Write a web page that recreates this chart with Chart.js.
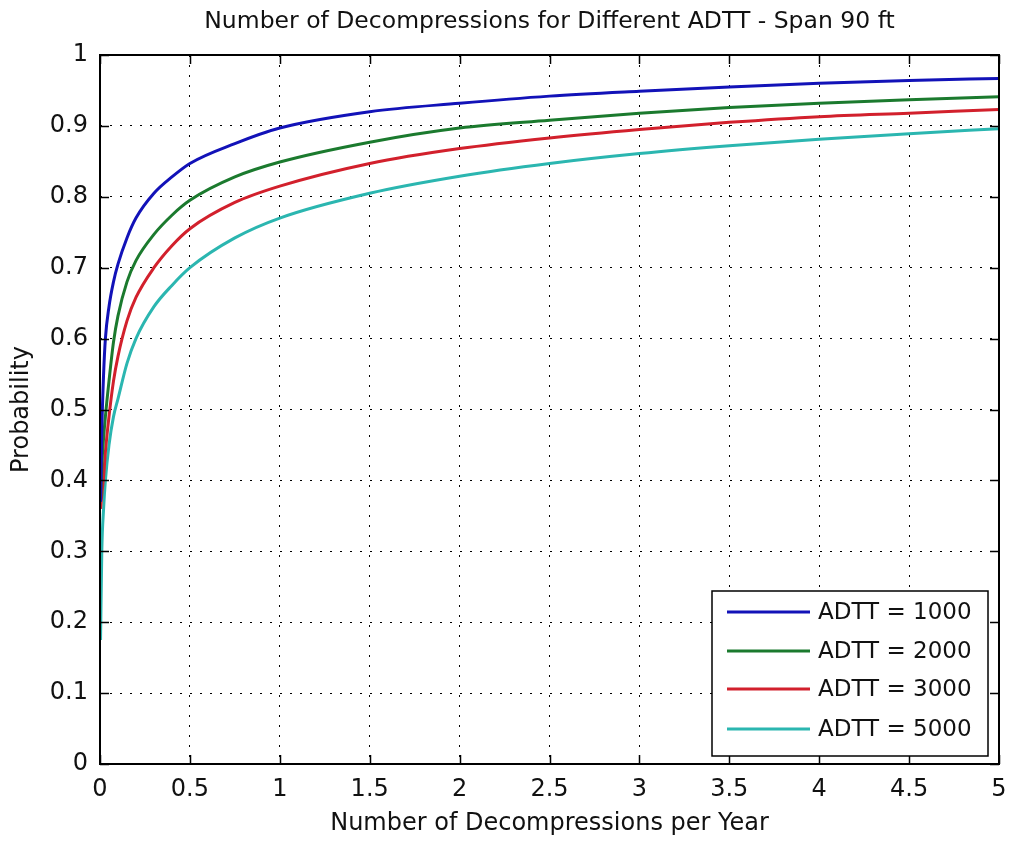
<!DOCTYPE html>
<html>
<head>
<meta charset="utf-8">
<script src="https://cdn.jsdelivr.net/npm/chart.js@4/dist/chart.umd.min.js"></script>
<style>
  html, body { margin: 0; padding: 0; background: #fff; }
  #wrap { width: 1010px; height: 843px; }
</style>
</head>
<body>
<div id="wrap"><canvas id="c" width="1010" height="843"></canvas></div>
<script>
const chartTitle = 'Number of Decompressions for Different ADTT - Span 90 ft';
const xAxisTitle = 'Number of Decompressions per Year';
const yAxisTitle = 'Probability';
const seriesLabels = ['ADTT = 1000', 'ADTT = 2000', 'ADTT = 3000', 'ADTT = 5000'];
const seriesColors = ['#1212b8', '#1b7a2e', '#d2202c', '#2bb6b0'];

const xTickLabels = ['0', '0.5', '1', '1.5', '2', '2.5', '3', '3.5', '4', '4.5', '5'];
const yTickLabels = ['0', '0.1', '0.2', '0.3', '0.4', '0.5', '0.6', '0.7', '0.8', '0.9', '1'];

const xValues  = [0.003, 0.01, 0.02, 0.03, 0.05, 0.075, 0.1, 0.15, 0.2, 0.3, 0.4, 0.5, 0.75, 1, 1.5, 2, 2.5, 3, 3.5, 4, 4.5, 5];
const adtt1000 = [0.37, 0.47, 0.55, 0.60, 0.645, 0.68, 0.705, 0.742, 0.77, 0.805, 0.828, 0.847, 0.875, 0.897, 0.92, 0.932, 0.942, 0.949, 0.955, 0.96, 0.964, 0.967];
const adtt2000 = [0.37, 0.42, 0.46, 0.49, 0.54, 0.595, 0.632, 0.68, 0.71, 0.747, 0.774, 0.795, 0.828, 0.849, 0.877, 0.897, 0.908, 0.918, 0.926, 0.932, 0.937, 0.941];
const adtt3000 = [0.36, 0.38, 0.405, 0.44, 0.49, 0.54, 0.575, 0.625, 0.658, 0.70, 0.731, 0.755, 0.792, 0.815, 0.847, 0.868, 0.883, 0.895, 0.905, 0.913, 0.918, 0.923];
const adtt5000 = [0.175, 0.30, 0.36, 0.40, 0.45, 0.49, 0.515, 0.565, 0.60, 0.645, 0.675, 0.70, 0.742, 0.77, 0.805, 0.829, 0.847, 0.861, 0.872, 0.881, 0.889, 0.896];

const seriesValues = [adtt1000, adtt2000, adtt3000, adtt5000];
const FONT = '"DejaVu Sans", "Liberation Sans", Arial, sans-serif';

const datasets = seriesValues.map((vals, i) => ({
  label: seriesLabels[i],
  data: xValues.map((x, j) => ({ x: x, y: vals[j] })),
  borderColor: seriesColors[i],
  backgroundColor: seriesColors[i],
  borderWidth: 3,
  pointRadius: 0,
  fill: false,
  cubicInterpolationMode: 'monotone'
}));

const frameAndLegend = {
  id: 'frameAndLegend',
  afterDraw(chart) {
    const ctx = chart.ctx;
    const a = chart.chartArea;
    const xs = chart.scales.x, ys = chart.scales.y;
    ctx.save();
    // title centred over the plot area
    ctx.fillStyle = '#111';
    ctx.font = '23.5px ' + FONT;
    ctx.textAlign = 'center';
    ctx.textBaseline = 'middle';
    ctx.fillText(chartTitle, (a.left + a.right) / 2, 22);
    // inward ticks
    ctx.strokeStyle = '#000';
    ctx.lineWidth = 1.5;
    const tl = 9;
    ctx.beginPath();
    xs.ticks.forEach(t => {
      const px = Math.round(xs.getPixelForValue(t.value)) + 0.5;
      ctx.moveTo(px, a.bottom); ctx.lineTo(px, a.bottom - tl);
      ctx.moveTo(px, a.top); ctx.lineTo(px, a.top + tl);
    });
    ys.ticks.forEach(t => {
      const py = Math.round(ys.getPixelForValue(t.value)) + 0.5;
      ctx.moveTo(a.left, py); ctx.lineTo(a.left + tl, py);
      ctx.moveTo(a.right, py); ctx.lineTo(a.right - tl, py);
    });
    ctx.stroke();
    // box
    ctx.lineWidth = 2;
    ctx.strokeRect(a.left, a.top, a.right - a.left, a.bottom - a.top);

    // legend
    const lx = 712, ly = 591, lw = 276, lh = 165;
    ctx.fillStyle = '#fff';
    ctx.fillRect(lx, ly, lw, lh);
    ctx.lineWidth = 1.5;
    ctx.strokeStyle = '#000';
    ctx.strokeRect(lx, ly, lw, lh);
    const rows = [612, 651, 689, 729];
    ctx.font = '23px ' + FONT;
    ctx.textBaseline = 'middle';
    ctx.textAlign = 'left';
    chart.data.datasets.forEach((ds, i) => {
      ctx.strokeStyle = ds.borderColor;
      ctx.lineWidth = 3;
      ctx.beginPath();
      ctx.moveTo(727, rows[i]); ctx.lineTo(810, rows[i]);
      ctx.stroke();
      ctx.fillStyle = '#111';
      ctx.fillText(ds.label, 818, rows[i] + 1);
    });
    ctx.restore();
  }
};

new Chart(document.getElementById('c'), {
  type: 'line',
  data: { datasets: datasets },
  options: {
    responsive: false,
    animation: false,
    layout: { padding: { left: 0, right: 0, top: 55, bottom: 0 } },
    plugins: {
      legend: { display: false },
      tooltip: { enabled: false },
      title: { display: false }
    },
    scales: {
      x: {
        type: 'linear',
        min: 0, max: 5,
        ticks: {
          stepSize: 0.5,
          color: '#111',
          font: { family: FONT, size: 24 },
          padding: 11,
          maxRotation: 0,
          autoSkip: false,
          callback: (v, i) => xTickLabels[i]
        },
        grid: { color: '#000', lineWidth: 1, drawTicks: false },
        border: { display: false, dash: [2, 8] },
        title: {
          display: true, text: xAxisTitle, color: '#111',
          font: { family: FONT, size: 24, lineHeight: 1.2 },
          padding: { top: 0, bottom: 5 }
        },
        afterFit: s => { s.height = 79; s.paddingLeft = 0; s.paddingRight = 11; }
      },
      y: {
        type: 'linear',
        min: 0, max: 1,
        ticks: {
          stepSize: 0.1,
          color: '#111',
          font: { family: FONT, size: 24 },
          padding: 12,
          autoSkip: false,
          callback: (v, i) => yTickLabels[i]
        },
        grid: { color: '#000', lineWidth: 1, drawTicks: false },
        border: { display: false, dash: [2, 8] },
        title: {
          display: true, text: yAxisTitle, color: '#111',
          font: { family: FONT, size: 24, lineHeight: 1.2 },
          padding: { top: 7, bottom: 0 }
        },
        afterFit: s => { s.width = 100; s.paddingTop = 0; s.paddingBottom = 0; }
      }
    }
  },
  plugins: [frameAndLegend]
});
</script>
</body>
</html>
